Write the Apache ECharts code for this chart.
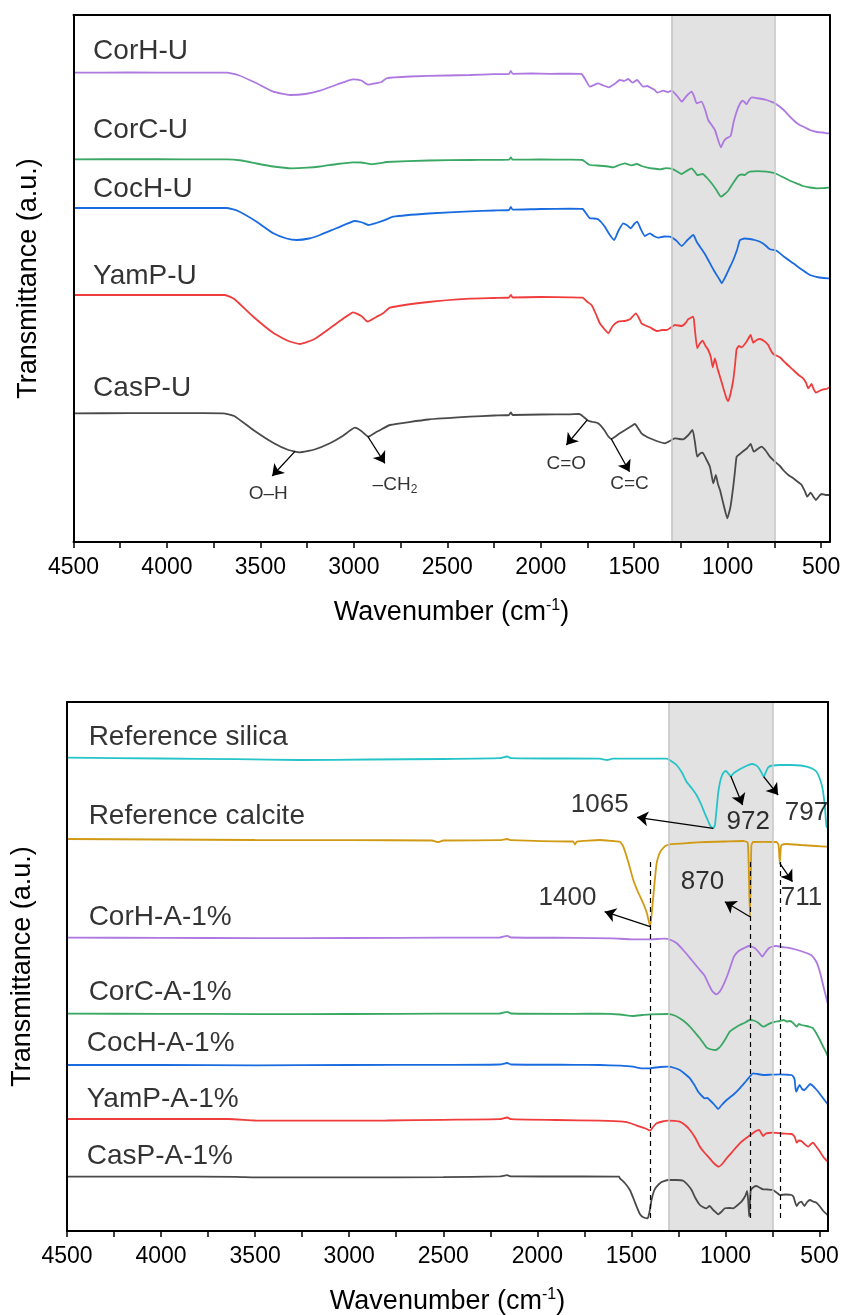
<!DOCTYPE html>
<html>
<head>
<meta charset="utf-8">
<script src="https://cdn.jsdelivr.net/npm/echarts@6/dist/echarts.min.js"></script>
<style>
html, body { margin: 0; padding: 0; background: #fff; }
#chart { width: 842px; height: 1315px; }
</style>
</head>
<body>
<div id="chart"></div>
<script>
// ---------- axis ticks (wavenumber, cm-1) ----------
const xTicks = [4500, 4000, 3500, 3000, 2500, 2000, 1500, 1000, 500];
const xTicksAll = [4500, 4250, 4000, 3750, 3500, 3250, 3000, 2750, 2500, 2250, 2000, 1750, 1500, 1250, 1000, 750, 500];
const bandRange = [1300, 750];

// ---------- upper panel: untreated samples (stacked transmittance, a.u.) ----------
const corhU = [[4500,469.3],[4200,469.5],[3900,469.3],[3680,469.3],[3620,467],[3520,458.7],[3431,450.3],[3342,447],[3260,448],[3181,451.3],[3090,457.5],[3003,462.7],[2960,461.5],[2923,457.3],[2890,458.5],[2852,460],[2825,463.7],[2700,465.5],[2500,466.5],[2379,467],[2250,467.8],[2170,468],[2160,471],[2150,468.2],[2050,468.5],[1950,468.2],[1844,468.3],[1782,468],[1760,462],[1737,455.3],[1715,457],[1693,458.7],[1665,456.5],[1634,454.7],[1605,458],[1577,462],[1555,461],[1532,463],[1509,459.3],[1484,462],[1470,459],[1452,455.3],[1430,456],[1407,453.7],[1390,452],[1377,449.3],[1345,451.3],[1320,450],[1300,451.3],[1270,446],[1246,440.3],[1220,446],[1193,450.3],[1180,446],[1166,438.7],[1140,440.3],[1120,432],[1104,422],[1068,412],[1036,394.7],[1020,401],[1006,403.7],[984,406],[968,420],[952,430.3],[935,438],[920,441.3],[910,440],[899,437.7],[885,442],[872,444.7],[830,443.5],[792,442],[770,440.5],[747,438.7],[700,432],[667,425.3],[640,420.5],[614,417],[580,414],[560,412],[520,410],[490,409.5],[462,408.7],[455,408.7]];
const corcU = [[4500,382.7],[4200,382.8],[3900,382.7],[3680,382.7],[3600,381.5],[3520,378.5],[3431,375.5],[3333,373.7],[3250,374.3],[3181,375.5],[3090,378],[3003,379.7],[2960,379.5],[2905,377.7],[2860,378.8],[2825,380],[2600,381.5],[2379,382],[2170,382.3],[2160,384.5],[2150,382.3],[2000,382.5],[1844,382.3],[1776,382],[1755,379],[1737,377],[1700,376.5],[1666,376],[1640,375.5],[1612,374.7],[1580,377],[1550,378.7],[1514,376.7],[1487,378],[1460,376],[1434,374.7],[1400,373.5],[1362,372.7],[1330,373.8],[1300,373.3],[1270,370.5],[1246,368],[1220,371],[1193,373.7],[1175,370],[1163,367],[1134,368],[1110,364],[1086,358.7],[1060,352],[1036,345.3],[1015,348],[997,351.3],[970,359],[944,366],[925,367.5],[908,367],[895,369],[881,370.3],[840,370.8],[792,370.3],[760,369.3],[738,368],[700,364.5],[667,361.3],[630,358.5],[596,356],[560,354.5],[524,353.7],[490,353.8],[462,354.3],[455,354.3]];
const cochU = [[4500,334],[4200,334],[3900,334],[3680,334],[3620,331],[3520,320.3],[3431,308.7],[3360,303.5],[3306,302],[3240,303.5],[3181,307],[3090,314],[2994,321],[2955,319.5],[2923,317],[2880,319],[2843,321.3],[2789,325.3],[2600,328.5],[2379,330.7],[2250,331.5],[2170,332],[2160,335],[2150,332.3],[2000,333],[1844,333.3],[1776,333],[1755,328],[1737,323.7],[1715,323.5],[1693,322.7],[1660,316],[1630,307],[1607,302],[1585,311],[1559,318.7],[1540,317],[1519,313.7],[1500,318],[1484,320.3],[1465,313],[1443,306],[1416,308.7],[1395,306],[1372,304.3],[1340,305.5],[1309,305.3],[1275,301.5],[1246,296],[1215,302],[1184,307],[1165,300],[1148,295.3],[1125,289],[1104,282],[1075,272],[1042,262],[1032,258.7],[1010,266],[990,274],[970,282],[950,292],[934,302],[910,303.5],[881,303],[855,302],[827,300.3],[800,297],[774,292.7],[738,291.3],[700,285.5],[649,278.7],[600,272],[560,267],[510,264.5],[462,263.7],[455,263.7]];
const yampU = [[4500,247],[4200,247],[3900,247],[3690,247],[3640,243],[3538,225.3],[3430,209],[3350,201],[3289,198],[3210,203],[3128,213.7],[3060,223],[3003,229.7],[2960,226],[2926,220.3],[2880,225],[2843,228.7],[2807,234.3],[2600,240],[2379,243.3],[2250,244],[2170,244.5],[2160,247],[2150,244.5],[2000,245],[1844,244.7],[1776,244.3],[1750,240],[1728,237],[1705,228],[1684,218.7],[1660,213],[1639,208.7],[1615,216],[1586,220.3],[1550,221],[1523,222.7],[1491,228.7],[1475,224],[1461,218.7],[1440,216.5],[1416,214.7],[1380,211],[1350,212],[1327,212],[1300,215],[1282,217],[1246,216],[1225,219],[1211,222.7],[1184,225.3],[1175,212],[1163,193.7],[1150,198],[1134,201.3],[1118,196],[1104,192],[1090,185],[1080,174.7],[1068,183.7],[1055,174],[1041,165.3],[1020,152],[1005,143],[997,141],[985,148],[970,162],[960,178],[952,192.7],[940,196],[925,194.7],[900,200],[877,207],[863,199.3],[845,202],[827,203],[805,201],[783,197],[770,192],[756,188],[721,184.7],[690,179],[649,172],[620,167],[596,163.7],[580,159],[569,153.7],[551,158],[540,153],[528,149.3],[510,151],[489,152.7],[470,153],[457,154.7],[455,155]];
const caspU = [[4500,128.7],[4200,128.8],[3900,128.8],[3700,128.7],[3640,126],[3538,112],[3430,99],[3350,92],[3289,89.7],[3210,92.5],[3128,98.7],[3060,106],[2994,114.3],[2960,111],[2923,105.3],[2880,110],[2852,112.7],[2807,117],[2600,122.5],[2379,125.3],[2250,126.5],[2170,127],[2160,129.5],[2150,127],[2000,127.5],[1844,127.7],[1794,128],[1770,125],[1746,121.3],[1720,120],[1693,118.7],[1660,112],[1640,106],[1621,103],[1600,105.5],[1577,108.7],[1540,113],[1510,116.5],[1496,118],[1480,114],[1461,108.7],[1440,106],[1416,103.7],[1380,101],[1336,98.7],[1300,102],[1282,103.7],[1260,103],[1238,102.7],[1210,107],[1188,112],[1175,100],[1163,85.3],[1150,88],[1134,89.3],[1115,83],[1095,75.3],[1085,66],[1077,58.7],[1063,67],[1052,58],[1041,52],[1020,36],[1002,23.7],[985,35],[970,55.3],[960,72],[952,85.3],[935,88],[920,90.3],[895,94],[877,98],[860,90.3],[840,93],[818,95.3],[795,91],[774,85.3],[747,80.3],[720,76],[703,72],[675,67],[649,63.7],[620,59.5],[604,57],[585,50],[574,45.3],[556,49.3],[540,45],[528,42],[510,46],[498,48],[475,47],[457,47],[455,47]];

// ---------- lower panel: references and treated samples ----------
const refSilica = [[4500,473.3],[4000,472.5],[3600,471.8],[3268,471],[2900,471.5],[2500,472],[2200,472.8],[2160,474.5],[2140,472.8],[1900,472.5],[1668,472.3],[1629,471],[1600,472.3],[1313,472.3],[1285,469.5],[1260,466],[1230,458],[1207,449.3],[1180,443],[1154,436],[1130,427],[1110,417.7],[1090,409],[1079,404.5],[1065,402.7],[1056,406],[1048,420],[1039,437.7],[1030,448],[1021,454.3],[1010,458.5],[998,460],[985,457.5],[972,455],[955,458],[924,461.7],[890,465],[861,467],[840,466],[826,463.7],[810,459],[797,454.3],[785,459],[773,463.7],[750,465.5],[711,466],[650,466],[600,465.5],[569,464.3],[540,462.5],[516,459.3],[500,453],[484,442.7],[472,425],[463,404.3],[455,402.7]];
const refCalcite = [[4500,392],[4000,391.5],[3500,391],[3000,390.8],[2560,390.5],[2528,388.8],[2500,390.5],[2200,390.8],[2160,392],[2140,390.8],[1830,389.5],[1810,389.5],[1800,386.5],[1790,389.3],[1668,391],[1600,390],[1561,389.3],[1543,384.3],[1515,368],[1490,351],[1465,339],[1437,327.7],[1418,318],[1400,304.3],[1387,327.7],[1376,350],[1366,367.7],[1352,377],[1340,381],[1320,385],[1296,386.7],[1200,388],[1100,389],[1000,389.5],[906,390],[882,388.5],[876,360],[870,314.3],[865,360],[862,386],[853,389],[800,389.2],[729,389],[718,386],[711,367.7],[706,383],[702,386],[675,387],[600,386],[520,385],[463,384.3],[455,384]];
const corhA = [[4500,293.3],[4000,293.2],[3500,292.8],[3000,293],[2500,293.3],[2200,293.5],[2160,295.2],[2140,293.5],[1800,293.2],[1600,292.6],[1497,291.7],[1404,291.7],[1325,292.3],[1290,291],[1259,287.7],[1220,280],[1180,271],[1145,263],[1113,256],[1090,247],[1074,241],[1060,238],[1047,236.7],[1030,239.5],[1007,247.7],[985,258],[955,274.3],[930,280],[900,283],[876,285],[855,284],[836,281.7],[820,278],[804,274.3],[790,278],[770,282.7],[750,284.5],[730,285],[700,284],[651,282.7],[600,280],[545,276],[530,273],[513,267.7],[495,257],[479,244.3],[465,234],[457,227.7],[455,227]];
const corcA = [[4500,217.3],[4000,217.2],[3500,216.9],[3000,217],[2500,217.3],[2200,217.5],[2160,219.2],[2140,217.5],[1800,217.2],[1668,217.3],[1560,216.5],[1491,215],[1440,216],[1402,216.7],[1305,217],[1270,215.5],[1243,212.7],[1215,209],[1189,204.3],[1160,198],[1136,192.7],[1101,183.7],[1075,181.5],[1052,181],[1035,183],[1021,186],[1000,192],[977,199.3],[950,203],[924,206],[900,208],[871,211],[850,210.5],[826,208.3],[810,205.5],[796,204.3],[780,206],[764,207.7],[740,209],[711,210],[690,211],[675,209.5],[658,210],[640,208],[622,204.3],[610,207],[596,206],[570,205],[550,204],[534,202.7],[515,197],[498,191],[480,184],[466,179],[457,175.3],[455,175]];
const cochA = [[4500,166],[4000,166],[3500,165.7],[3000,166],[2500,166.2],[2200,166.5],[2160,168],[2140,166.5],[1800,166.2],[1668,166],[1560,165.3],[1491,164.3],[1445,162.7],[1402,162.7],[1350,164],[1305,164.3],[1270,163],[1243,161],[1215,157],[1189,152.7],[1165,146],[1145,139.3],[1125,135],[1110,132.7],[1096,133],[1084,131],[1060,126.5],[1039,122],[1020,126],[994,131],[960,136],[924,142.7],[890,150],[853,157.7],[830,157],[800,156],[760,156.3],[711,156.7],[680,156.3],[649,156],[638,154],[632,151],[628,143],[623,139.3],[615,143],[606,146],[593,142],[580,141],[565,144],[550,147],[535,145],[520,142],[507,139.3],[490,135],[470,130],[457,127],[455,126.5]];
const yampA = [[4500,112],[4000,112],[3640,112],[3500,110.5],[3200,110.3],[2800,110.5],[2500,111.2],[2200,111.8],[2160,113.5],[2140,111.8],[1900,111],[1668,110.3],[1544,109.3],[1500,107.5],[1455,104.3],[1425,102.5],[1400,100.3],[1385,104],[1366,107.7],[1335,109.5],[1305,110.3],[1270,110.2],[1243,109.3],[1215,106],[1189,101],[1160,93],[1136,84.3],[1110,78],[1084,72.7],[1060,67.5],[1036,64.3],[1015,67.5],[994,72.7],[960,80],[924,87.7],[900,91.5],[880,94.3],[860,97],[844,99.3],[832,100.5],[821,101],[810,98],[800,95],[785,97.5],[770,98],[747,98.3],[700,97.5],[649,97],[635,95],[628,92],[622,88.3],[610,90.5],[596,90],[580,87],[561,84.3],[545,87],[534,88.3],[520,85],[500,80],[480,74],[457,69.3],[455,69]];
const caspA = [[4500,54.3],[4000,54.3],[3600,54.2],[3500,53.7],[3000,53.7],[2500,53.8],[2200,54.6],[2160,55.8],[2140,54.6],[1800,54.5],[1565,54.3],[1561,52.7],[1535,48],[1508,41],[1490,33],[1472,24.3],[1455,17],[1437,13.7],[1414,12.7],[1405,18],[1393,31],[1380,40],[1366,44.3],[1340,49],[1305,51],[1260,51],[1225,50.3],[1200,46],[1180,41],[1160,33],[1136,26],[1115,23.5],[1101,22.7],[1085,25],[1065,21],[1050,18.5],[1039,16.7],[1020,19.5],[1003,22.7],[980,23],[959,22.7],[935,26],[915,29.3],[895,35],[885,40],[879,30],[874,14.3],[869,32],[865,41],[850,44],[835,45],[815,43],[800,41.7],[775,41.5],[747,41],[725,38],[711,36],[680,36.5],[649,36],[638,34],[630,29],[622,25],[610,28],[596,29.3],[588,27],[580,25],[566,29],[550,31],[535,29.5],[516,28.3],[500,25],[480,20],[457,16],[455,15.8]];

// ---------- names and band assignments ----------
const topNames = ['CorH-U', 'CorC-U', 'CocH-U', 'YamP-U', 'CasP-U'];
const bottomNames = ['Reference silica', 'Reference calcite', 'CorH-A-1%', 'CorC-A-1%', 'CocH-A-1%', 'YamP-A-1%', 'CasP-A-1%'];
const groupNames = ['O–H', '–CH2', 'C=O', 'C=C'];
const groupBands = [3315, 2926, 1751, 1624];
const silicaPeaks = [1065, 972, 797];
const calcitePeaks = [1400, 870, 711];

// ---------- layout (label anchors in axis units) ----------
const topNameAnchor = [[4395, 490.3], [4395, 412], [4395, 353], [4395, 265.3], [4395, 153.7]];
const bottomNameAnchor = [[4385, 493.5], [4385, 415], [4385, 313.5], [4385, 239], [4395, 188], [4395, 132], [4395, 75]];
const groupArrowEnd = [[3437, 66], [2834, 78.7], [1863, 97], [1525, 70.3]];
const groupTextAnchor = [[3458, 48.7], [2780, 57], [1863, 78.7], [1525, 58.7]];
const silicaArrowEnd = [[1470, 413.7], [909, 426], [720, 436]];
const silicaTextAnchor = [[1668, 426], [879, 409.3], [569, 417.7]];
const calciteArrowEnd = [[1642, 319.3], [1003, 329.3], [644, 349.3]];
const calciteTextAnchor = [[1840, 332.7], [1122, 349.3], [596, 332.7]];
const guideSpan = [369, 11];

const FONT = "'Liberation Sans', Arial, Helvetica, sans-serif";
const colors = {
  purple: '#ad78e0', green: '#3aa864', blue: '#1a6be0', red: '#f03c3c',
  grey: '#4a4a4a', cyan: '#26c4c8', gold: '#d09a14'
};

function interp(data, x) {
  for (let i = 0; i < data.length - 1; i++) {
    const a = data[i], c = data[i + 1];
    if ((a[0] - x) * (c[0] - x) <= 0) {
      const t = (x - a[0]) / (c[0] - a[0]);
      return a[1] + t * (c[1] - a[1]);
    }
  }
  return data[data.length - 1][1];
}

function spectrum(name, data, color, g) {
  return {
    type: 'line', name, data, xAxisIndex: g * 2, yAxisIndex: g * 2,
    showSymbol: false, symbol: 'none', smooth: 0.15, silent: true,
    lineStyle: { color, width: 1.8 }, z: 2
  };
}

function bandSeries(g) {
  return {
    type: 'line', data: [], xAxisIndex: g * 2, yAxisIndex: g * 2, z: 3, silent: true,
    markArea: {
      silent: true,
      itemStyle: { color: 'rgba(188,188,188,0.44)' },
      data: [[{ xAxis: bandRange[0] }, { xAxis: bandRange[1] }]]
    },
    markLine: {
      silent: true, symbol: 'none', label: { show: false },
      lineStyle: { color: '#c4c4c4', width: 1.5, type: 'solid' },
      data: bandRange.map(v => ({ xAxis: v }))
    }
  };
}

function textSeries(g, items, extra) {
  return Object.assign({
    type: 'scatter', xAxisIndex: g * 2, yAxisIndex: g * 2, z: 6, silent: true,
    symbolSize: 0, data: items
  }, extra || {});
}

function arrowLines(pairs) {
  return {
    silent: true, symbol: ['none', 'arrow'], symbolSize: 11,
    label: { show: false },
    lineStyle: { color: '#000', width: 1.3, type: 'solid', opacity: 1 },
    data: pairs.map(p => [{ coord: p[0] }, { coord: p[1] }])
  };
}

// names of the spectra
const nameLabel = (txt, pos) => ({
  value: pos,
  label: { show: true, formatter: txt, position: [0, 0], align: 'left', verticalAlign: 'middle',
           fontSize: 28, fontFamily: FONT, color: '#000' }
});

const topNameItems = topNames.map((n, i) => nameLabel(n, topNameAnchor[i]));
const bottomNameItems = bottomNames.map((n, i) => nameLabel(n, bottomNameAnchor[i]));

// functional-group tags on CasP-U
const groupItems = groupNames.map((n, i) => ({
  value: groupTextAnchor[i],
  label: {
    show: true, position: [0, 0], align: 'center', verticalAlign: 'middle',
    formatter: n === '–CH2' ? '{a|–CH}{b|2}' : '{a|' + n + '}',
    rich: {
      a: { fontSize: 19, fontFamily: FONT, color: '#000', lineHeight: 22 },
      b: { fontSize: 12, fontFamily: FONT, color: '#000', lineHeight: 12, verticalAlign: 'bottom' }
    }
  }
}));
const groupArrows = groupBands.map((b, i) => [[b, interp(caspU, b)], groupArrowEnd[i]]);

// peak markers in lower panel
const peakItem = (txt, pos) => ({
  value: pos,
  label: { show: true, formatter: String(txt), position: [0, 0], align: 'center', verticalAlign: 'middle',
           fontSize: 26, fontFamily: FONT, color: '#000' }
});
const peakItems = silicaPeaks.map((p, i) => peakItem(p, silicaTextAnchor[i]))
  .concat(calcitePeaks.map((p, i) => peakItem(p, calciteTextAnchor[i])));
const peakArrows = silicaPeaks.map((p, i) => [[p, interp(refSilica, p)], silicaArrowEnd[i]])
  .concat(calcitePeaks.map((p, i) => [[p, interp(refCalcite, p)], calciteArrowEnd[i]]));

const guideLines = {
  silent: true, symbol: 'none', label: { show: false },
  lineStyle: { color: '#000', width: 1.2, type: [5, 4], opacity: 1 },
  data: calcitePeaks.map(p => [{ coord: [p, guideSpan[0]] }, { coord: [p, guideSpan[1]] }])
};

// ---------- axes ----------
const xName = {
  name: '{a|Wavenumber (cm}{b|-1}{a|)}',
  nameLocation: 'middle', nameGap: 56,
  nameTextStyle: {
    rich: {
      a: { fontSize: 27, fontFamily: FONT, color: '#000', lineHeight: 30 },
      b: { fontSize: 16, fontFamily: FONT, color: '#000', lineHeight: 16, verticalAlign: 'top' }
    }
  }
};

function xAxisPair(g) {
  const main = Object.assign({
    gridIndex: g, type: 'value', min: 455, max: 4500, inverse: true, position: 'bottom', z: 10,
    splitLine: { show: false },
    axisLine: { show: true, onZero: false, lineStyle: { color: '#000', width: 2 } },
    axisTick: { show: true, customValues: xTicksAll, length: 6, inside: false, lineStyle: { color: '#000', width: 1.5 } },
    axisLabel: { show: true, customValues: xTicks, formatter: v => String(v),
                 fontSize: 23, fontFamily: FONT, color: '#000', margin: 14 }
  }, xName);
  const top = {
    gridIndex: g, type: 'value', min: 455, max: 4500, inverse: true, position: 'top', z: 10,
    splitLine: { show: false },
    axisLine: { show: true, onZero: false, lineStyle: { color: '#000', width: 2 } },
    axisTick: { show: false }, axisLabel: { show: false }
  };
  return [main, top];
}

function yAxisPair(g, max) {
  const left = {
    gridIndex: g, type: 'value', min: 0, max, position: 'left', z: 10,
    splitLine: { show: false },
    axisLine: { show: true, onZero: false, lineStyle: { color: '#000', width: 2 } },
    axisTick: { show: false }, axisLabel: { show: false },
    name: 'Transmittance (a.u.)', nameLocation: 'middle', nameGap: 31,
    nameTextStyle: { fontSize: 27, fontFamily: FONT, color: '#000' }
  };
  const right = {
    gridIndex: g, type: 'value', min: 0, max, position: 'right', z: 10,
    splitLine: { show: false },
    axisLine: { show: true, onZero: false, lineStyle: { color: '#000', width: 2 } },
    axisTick: { show: false }, axisLabel: { show: false }
  };
  return [left, right];
}

const option = {
  animation: false,
  backgroundColor: '#fff',
  grid: [
    { left: 73.5, top: 15, width: 756, height: 527, outerBoundsMode: 'none', containLabel: false },
    { left: 67, top: 702, width: 761, height: 529, outerBoundsMode: 'none', containLabel: false }
  ],
  xAxis: [...xAxisPair(0), ...xAxisPair(1)],
  yAxis: [...yAxisPair(0, 527), ...yAxisPair(1, 529)],
  series: [
    spectrum('CorH-U', corhU, colors.purple, 0),
    spectrum('CorC-U', corcU, colors.green, 0),
    spectrum('CocH-U', cochU, colors.blue, 0),
    spectrum('YamP-U', yampU, colors.red, 0),
    spectrum('CasP-U', caspU, colors.grey, 0),
    bandSeries(0),
    textSeries(0, topNameItems),
    textSeries(0, groupItems, { markLine: arrowLines(groupArrows) }),

    spectrum('Reference silica', refSilica, colors.cyan, 1),
    spectrum('Reference calcite', refCalcite, colors.gold, 1),
    spectrum('CorH-A-1%', corhA, colors.purple, 1),
    spectrum('CorC-A-1%', corcA, colors.green, 1),
    spectrum('CocH-A-1%', cochA, colors.blue, 1),
    spectrum('YamP-A-1%', yampA, colors.red, 1),
    spectrum('CasP-A-1%', caspA, colors.grey, 1),
    bandSeries(1),
    textSeries(1, bottomNameItems, { markLine: guideLines }),
    textSeries(1, peakItems, { markLine: arrowLines(peakArrows) })
  ]
};

const chart = echarts.init(document.getElementById('chart'), null, { renderer: 'canvas' });
chart.setOption(option);
</script>
</body>
</html>
